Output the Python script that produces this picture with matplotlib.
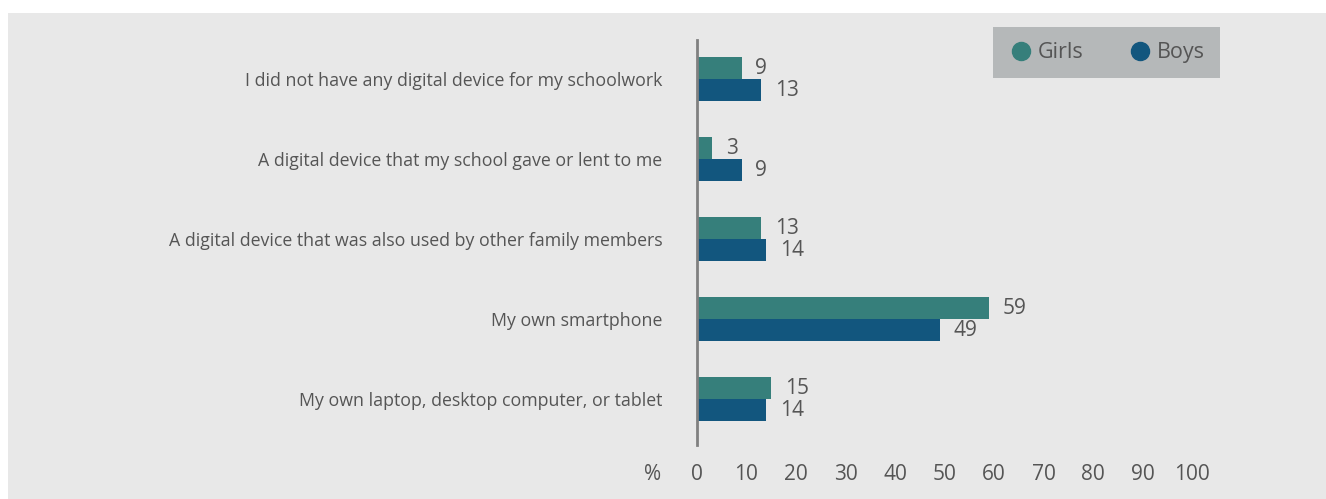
#------------------------------------------------------------------------------
# Devices used for schoolwork, girls vs boys (%), horizontal grouped bars
#------------------------------------------------------------------------------

import matplotlib.pyplot as plt
from matplotlib.patches import Rectangle
from matplotlib.lines import Line2D
import numpy as np

# Data
categories = ["I did not have any digital device for my schoolwork",
              "A digital device that my school gave or lent to me",
              "A digital device that was also used by other family members",
              "My own smartphone",
              "My own laptop, desktop computer, or tablet"]
girls = [9, 3, 13, 59, 15]
boys = [13, 9, 14, 49, 14]
xticks = [0, 10, 20, 30, 40, 50, 60, 70, 80, 90, 100]

# Styles
c_girls = "#367f7b"
c_boys = "#12567e"
c_text = "#555555"
c_panel = "#e8e8e8"
plt.rcParams["font.family"] = ["Open Sans", "DejaVu Sans"]

fig = plt.figure(figsize=(13.26, 4.99), dpi=100)

# Grey background panel (behind everything)
fig.patches.append(Rectangle((8 / 1326, 0), 1, 1 - 13 / 499, transform=fig.transFigure,
                             facecolor=c_panel, edgecolor="none", zorder=-10))

ax = fig.add_axes([697 / 1326, 1 - 445 / 499, 495 / 1326, 405 / 499])
ax.set_facecolor("none")

y = np.arange(len(categories))
h = 0.275
ax.barh(y - h / 2, girls, height=h, color=c_girls, label="Girls")
ax.barh(y + h / 2, boys, height=h, color=c_boys, label="Boys")

# Value labels
for yi, v in zip(y, girls):
    ax.annotate(str(v), (v, yi - h / 2), xytext=(10, 0), textcoords="offset points",
                va="center", ha="left", fontsize=15, color=c_text)
for yi, v in zip(y, boys):
    ax.annotate(str(v), (v, yi + h / 2), xytext=(10, 0), textcoords="offset points",
                va="center", ha="left", fontsize=15, color=c_text)

ax.set_xlim(0, 100)
ax.set_ylim(4.57, -0.49)
ax.set_xticks(xticks)
ax.set_xticklabels([str(t) for t in xticks], fontsize=15, color=c_text)
ax.set_yticks(y)
ax.set_yticklabels(categories, fontsize=12.8, color=c_text)
ax.tick_params(axis="x", length=0, pad=14)
ax.tick_params(axis="y", length=0, pad=25)

for s in ["top", "right", "bottom"]:
    ax.spines[s].set_visible(False)
ax.spines["left"].set_color("#808080")
ax.spines["left"].set_linewidth(2)

# "%" unit label to the left of the x tick labels
ax.annotate("%", (0, 0), xycoords="axes fraction", xytext=(-32, -14),
            textcoords="offset points", ha="center", va="top", fontsize=15, color=c_text)

# Legend
handles = [Line2D([], [], marker="o", linestyle="none", markersize=13, color=c_girls),
           Line2D([], [], marker="o", linestyle="none", markersize=13, color=c_boys)]
leg = fig.legend(handles, ["Girls", "Boys"], loc="upper right", ncol=2,
                 bbox_to_anchor=(1220 / 1326, 1 - 27 / 499), frameon=True,
                 fancybox=False, fontsize=15.5, handletextpad=0.2, columnspacing=2.0,
                 handlelength=1.2, borderpad=0.7, borderaxespad=0)
leg.get_frame().set_facecolor("#b5b8b9")
leg.get_frame().set_edgecolor("none")
leg.get_frame().set_alpha(1)
for t in leg.get_texts():
    t.set_color(c_text)
    t.set_fontweight("medium")

plt.savefig("out.png", dpi=100)
